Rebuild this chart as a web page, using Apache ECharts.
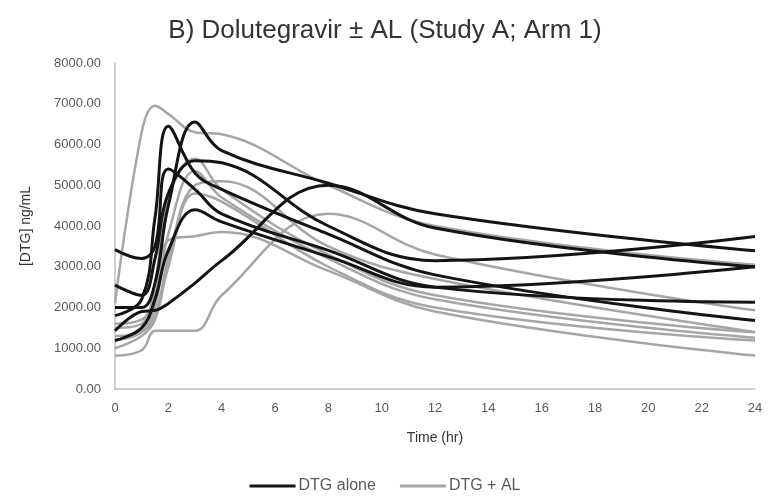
<!DOCTYPE html>
<html>
<head>
<meta charset="utf-8">
<script src="https://cdn.jsdelivr.net/npm/echarts@6/dist/echarts.min.js"></script>
<style>
html,body{margin:0;padding:0;background:#fff;}
#chart{width:770px;height:503px;}
</style>
</head>
<body>
<div id="chart"></div>
<script>
// Sampling times (hr)
var times = [0, 1, 1.5, 2, 3, 4, 8, 12, 24];

// DTG alone (black) subjects
var alone1 = [1800, 2200, 4200, 6450, 5300, 4900, 3800, 2800, 1680];
var alone2 = [2000, 2000, 2600, 4500, 6550, 5850, 5050, 4300, 3390];
var alone3 = [1430, 1900, 1930, 2100, 2600, 3150, 5000, 3950, 3000];
var alone4 = [2550, 2300, 3200, 4800, 5600, 5550, 4000, 3150, 3740];
var alone5 = [3420, 3200, 3500, 5400, 4900, 4300, 3400, 2500, 2130];
var alone6 = [1190, 1500, 2200, 3400, 4400, 4100, 3250, 2500, 3000];

// DTG + AL (grey) subjects
var al1 = [2100, 6300, 6950, 6750, 6300, 6250, 5000, 4000, 3050];
var al2 = [820, 950, 1430, 1430, 1430, 2300, 4300, 3300, 1930];
var al3 = [1500, 1600, 2600, 4700, 5650, 4900, 3300, 2300, 1390];
var al4 = [1200, 1400, 2000, 3800, 5350, 4700, 3200, 2200, 1260];
var al5 = [1000, 1300, 1700, 3000, 4800, 4600, 3000, 2000, 1190];
var al6 = [1600, 1700, 2300, 3650, 3750, 3850, 2900, 1900, 820];
var al7 = [1300, 1400, 1800, 3200, 5000, 5100, 3500, 2700, 1400];

var aloneSets = [alone1, alone2, alone3, alone4, alone5, alone6];
var alSets = [al1, al2, al3, al4, al5, al6, al7];

function pairs(vals){ return vals.map(function(v,i){ return [times[i], v]; }); }

var series = [];
alSets.forEach(function(s){
  series.push({name:'DTG + AL', type:'line', data:pairs(s), smooth:0.4, symbol:'none',
    lineStyle:{color:'#a6a6a6', width:2.5}, itemStyle:{color:'#a6a6a6'}});
});
aloneSets.forEach(function(s){
  series.push({name:'DTG alone', type:'line', data:pairs(s), smooth:0.4, symbol:'none',
    lineStyle:{color:'#141414', width:3}, itemStyle:{color:'#141414'}});
});

var font = 'Liberation Sans, Arial';
var chart = echarts.init(document.getElementById('chart'), null, {renderer:'canvas'});
chart.setOption({
  animation:false,
  backgroundColor:'#ffffff',
  title:{text:'B) Dolutegravir \u00b1 AL (Study A; Arm 1)', left:'center', top:13,
    textStyle:{fontFamily:font, fontSize:26, fontWeight:'normal', color:'#333'}},
  grid:{left:115, right:15, top:63, bottom:114},
  legend:{bottom:4, left:'center', itemWidth:46, itemHeight:3, icon:'rect', itemGap:24,
    data:[{name:'DTG alone', itemStyle:{color:'#141414'}}, {name:'DTG + AL', itemStyle:{color:'#a6a6a6'}}],
    textStyle:{fontFamily:font, fontSize:16, color:'#595959', padding:[0,0,0,-2]}},
  xAxis:{type:'value', min:0, max:24, interval:2, name:'Time (hr)', nameLocation:'middle', nameGap:42,
    nameTextStyle:{fontFamily:font, fontSize:14, color:'#333'},
    axisLine:{lineStyle:{color:'#bfbfbf', width:1.5}}, axisTick:{show:false}, splitLine:{show:false},
    axisLabel:{fontFamily:font, fontSize:13, color:'#595959', margin:13}},
  yAxis:{type:'value', min:0, max:8000, interval:1000, name:'[DTG] ng/mL', nameLocation:'middle', nameGap:82,
    nameTextStyle:{fontFamily:font, fontSize:14, color:'#333'},
    axisLine:{show:true, lineStyle:{color:'#bfbfbf', width:1.5}}, axisTick:{show:false}, splitLine:{show:false},
    axisLabel:{fontFamily:font, fontSize:13, color:'#595959', margin:14,
      formatter:function(v){return v.toFixed(2);}}},
  series:series
});
</script>
</body>
</html>
